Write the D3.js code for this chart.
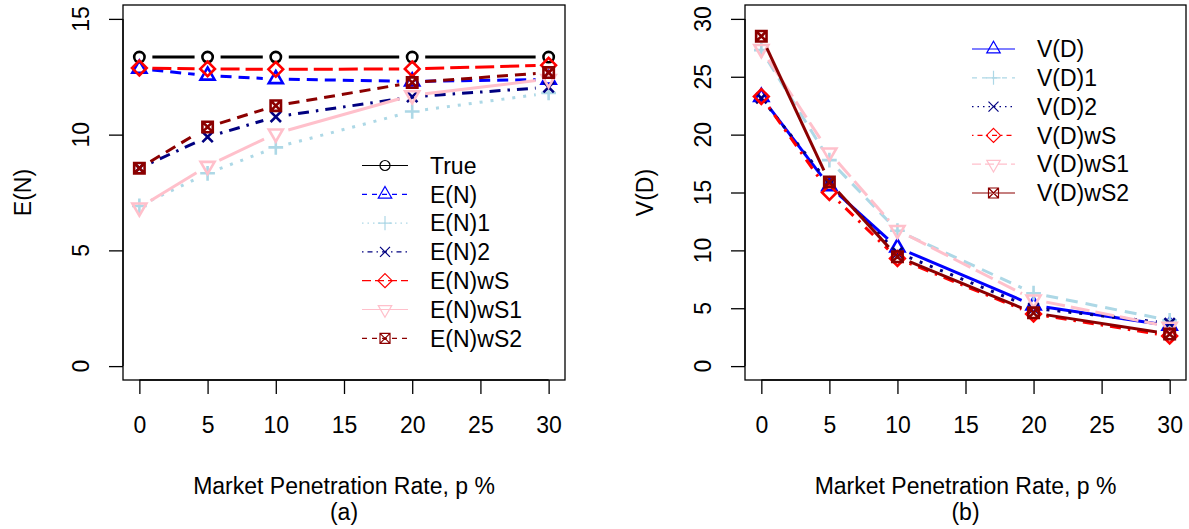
<!DOCTYPE html>
<html><head><meta charset="utf-8">
<script src="https://cdn.jsdelivr.net/npm/d3@7"></script>
<style>
html,body{margin:0;padding:0;background:#fff;}
svg{display:block;font-family:"Liberation Sans",Arial,Helvetica,sans-serif;}
</style></head>
<body>
<svg id="chart" width="1189" height="529"></svg>
<script>
// ---------- data ----------
const penetration = [0, 5, 10, 20, 30];
const xTicks = [0, 5, 10, 15, 20, 25, 30];
const yTicksA = [0, 5, 10, 15];
const yTicksB = [0, 5, 10, 15, 20, 25, 30];

const seriesNamesA = ["True", "E(N)", "E(N)1", "E(N)2", "E(N)wS", "E(N)wS1", "E(N)wS2"];
const trueN   = [13.35, 13.35, 13.35, 13.35, 13.35];
const EN      = [12.85, 12.55, 12.40, 12.30, 12.38];
const EN1     = [6.92, 8.33, 9.45, 11.00, 11.80];
const EN2     = [8.55, 9.90, 10.77, 11.63, 12.05];
const ENwS    = [12.88, 12.84, 12.82, 12.84, 13.00];
const ENwS1   = [6.85, 8.65, 10.05, 11.70, 12.40];
const ENwS2   = [8.55, 10.33, 11.25, 12.25, 12.68];

const seriesNamesB = ["V(D)", "V(D)1", "V(D)2", "V(D)wS", "V(D)wS1", "V(D)wS2"];
const VD      = [23.25, 15.55, 10.25, 5.25, 3.50];
const VD1     = [27.30, 17.80, 11.70, 6.30, 3.95];
const VD2     = [23.15, 15.75, 9.80, 5.00, 3.70];
const VDwS    = [23.30, 15.00, 9.30, 4.50, 2.60];
const VDwS1   = [27.40, 18.45, 11.75, 5.75, 3.40];
const VDwS2   = [28.50, 15.90, 9.45, 4.60, 2.77];

// ---------- styles ----------
const styleA = [
  {values: trueN, color: "#000000", marker: "circle",  dash: null,          ldash: null},
  {values: EN,    color: "#0000FF", marker: "tri",     dash: "11,7",        ldash: "5,5"},
  {values: EN1,   color: "#ADD8E6", marker: "plus",    dash: "3,8",         ldash: "1.5,4"},
  {values: EN2,   color: "#000080", marker: "cross",   dash: "2.5,7,11,7",  ldash: "1.5,4,5,4"},
  {values: ENwS,  color: "#FF0000", marker: "diamond", dash: "19,6",        ldash: "9,4"},
  {values: ENwS1, color: "#FFC0CB", marker: "dtri",    dash: null,          ldash: null},
  {values: ENwS2, color: "#8B0000", marker: "boxx",    dash: "11,7",        ldash: "5,5"}
];
const styleB = [
  {values: VD,    color: "#0000FF", marker: "tri",     dash: null,          ldash: null},
  {values: VD1,   color: "#ADD8E6", marker: "plus",    dash: "12,8",        ldash: "5,5"},
  {values: VD2,   color: "#000080", marker: "cross",   dash: "3,8",         ldash: "1.5,4"},
  {values: VDwS,  color: "#FF0000", marker: "diamond", dash: "2.5,7,11,7",  ldash: "1.5,4,5,4"},
  {values: VDwS1, color: "#FFC0CB", marker: "dtri",    dash: "19,6",        ldash: "9,4"},
  {values: VDwS2, color: "#8B0000", marker: "boxx",    dash: null,          ldash: null}
];

const FS = 23;
const svg = d3.select("#chart");
const plotTop = 5, plotBottom = 380;

function markerPath(type, x, y, R) {
  const p = d3.path();
  if (type === "tri") {
    p.moveTo(x, y - 1.555 * R); p.lineTo(x + 1.347 * R, y + 0.778 * R); p.lineTo(x - 1.347 * R, y + 0.778 * R); p.closePath();
  } else if (type === "dtri") {
    p.moveTo(x, y + 1.555 * R); p.lineTo(x + 1.347 * R, y - 0.778 * R); p.lineTo(x - 1.347 * R, y - 0.778 * R); p.closePath();
  } else if (type === "plus") {
    const a = 1.414 * R;
    p.moveTo(x - a, y); p.lineTo(x + a, y); p.moveTo(x, y - a); p.lineTo(x, y + a);
  } else if (type === "cross") {
    p.moveTo(x - R, y - R); p.lineTo(x + R, y + R); p.moveTo(x - R, y + R); p.lineTo(x + R, y - R);
  } else if (type === "diamond") {
    const a = 1.414 * R;
    p.moveTo(x, y - a); p.lineTo(x + a, y); p.lineTo(x, y + a); p.lineTo(x - a, y); p.closePath();
  } else if (type === "boxx") {
    p.rect(x - R, y - R, 2 * R, 2 * R);
    p.moveTo(x - R, y - R); p.lineTo(x + R, y + R); p.moveTo(x - R, y + R); p.lineTo(x + R, y - R);
  } else if (type === "circle") {
    p.moveTo(x + R, y); p.arc(x, y, R, 0, 2 * Math.PI);
  }
  return p.toString();
}

function panel(opts) {
  const {x0, x1, yDomain, yTicks, series, names, ylab, sub, legend} = opts;
  const xs = d3.scaleLinear().domain([-1.2, 31.2]).range([x0, x1]);
  const ys = d3.scaleLinear().domain(yDomain).range([plotBottom, plotTop]);
  const g = svg.append("g");

  // axes
  const gx = g.append("g").attr("transform", `translate(0,${plotBottom})`)
    .call(d3.axisBottom(xs).tickValues(xTicks).tickSize(14).tickPadding(22.7).tickFormat(d3.format("d")));
  gx.select(".domain").attr("d", `M${xs(0)},0H${xs(30)}`);
  const gy = g.append("g").attr("transform", `translate(${x0},0)`)
    .call(d3.axisLeft(ys).tickValues(yTicks).tickSize(14).tickFormat(""));
  gy.select(".domain").attr("d", `M0,${ys(yTicks[0])}V${ys(yTicks[yTicks.length - 1])}`);
  [gx, gy].forEach(a => {
    a.selectAll("line,path").attr("stroke", "#000").attr("stroke-width", 1.3);
    a.selectAll("text").attr("font-size", FS).attr("font-family", "Liberation Sans, Arial, sans-serif").attr("fill", "#000");
  });
  const lx = x0 - 34;
  g.append("g").selectAll("text").data(yTicks).join("text")
    .attr("x", lx).attr("y", d => ys(d))
    .attr("transform", d => `rotate(-90,${lx},${ys(d)})`)
    .attr("text-anchor", "middle").attr("font-size", FS).text(d => d);

  // box
  g.append("rect").attr("x", x0).attr("y", plotTop).attr("width", x1 - x0).attr("height", plotBottom - plotTop)
    .attr("fill", "none").attr("stroke", "#000").attr("stroke-width", 1.3);

  // titles
  const tx = x0 - 92;
  const cy = (plotTop + plotBottom) / 2;
  g.append("text").attr("x", tx).attr("y", cy).attr("transform", `rotate(-90,${tx},${cy})`)
    .attr("text-anchor", "middle").attr("font-size", FS).text(ylab);
  const cx = (x0 + x1) / 2;
  g.append("text").attr("x", cx).attr("y", 494).attr("text-anchor", "middle").attr("font-size", FS).text("Market Penetration Rate, p %");
  g.append("text").attr("x", cx).attr("y", 520).attr("text-anchor", "middle").attr("font-size", FS).text(sub);

  // series (type = "b": segments with gaps around points)
  const gap = 13, R = 5.2;
  series.forEach(s => {
    const pts = penetration.map((p, i) => [xs(p), ys(s.values[i])]);
    const sg = g.append("g");
    for (let i = 0; i < pts.length - 1; i++) {
      const [ax, ay] = pts[i], [bx, by] = pts[i + 1];
      const L = Math.hypot(bx - ax, by - ay);
      if (L <= 2 * gap) continue;
      const ux = (bx - ax) / L, uy = (by - ay) / L;
      sg.append("line")
        .attr("x1", ax + ux * gap).attr("y1", ay + uy * gap)
        .attr("x2", bx - ux * gap).attr("y2", by - uy * gap)
        .attr("stroke", s.color).attr("stroke-width", 3)
        .attr("stroke-dasharray", s.dash)
        .attr("stroke-linecap", "butt");
    }
    sg.selectAll("path.pt").data(pts).join("path").attr("class", "pt")
      .attr("d", d => markerPath(s.marker, d[0], d[1], R))
      .attr("fill", "none").attr("stroke", s.color).attr("stroke-width", 2.6);
  });

  // legend
  const lg = g.append("g");
  series.forEach((s, i) => {
    const yy = legend.y0 + i * legend.dy;
    lg.append("line").attr("x1", legend.lx1).attr("x2", legend.lx2).attr("y1", yy).attr("y2", yy)
      .attr("stroke", s.color).attr("stroke-width", 1.2).attr("stroke-dasharray", s.ldash);
  });
  series.forEach((s, i) => {
    const yy = legend.y0 + i * legend.dy;
    const mx = (legend.lx1 + legend.lx2) / 2;
    lg.append("path").attr("d", markerPath(s.marker, mx, yy, 5))
      .attr("fill", "none").attr("stroke", s.color).attr("stroke-width", 1.2);
    lg.append("text").attr("x", legend.tx).attr("y", yy + 8.2).attr("font-size", FS).text(names[i]);
  });
}

panel({x0: 123, x1: 565, yDomain: [-0.6, 15.6], yTicks: yTicksA, series: styleA, names: seriesNamesA,
  ylab: "E(N)", sub: "(a)", legend: {lx1: 362, lx2: 408, tx: 430, y0: 165.5, dy: 28.8}});
panel({x0: 745, x1: 1186, yDomain: [-1.2, 31.2], yTicks: yTicksB, series: styleB, names: seriesNamesB,
  ylab: "V(D)", sub: "(b)", legend: {lx1: 972, lx2: 1015, tx: 1037, y0: 49, dy: 28.8}});
</script>
</body></html>
